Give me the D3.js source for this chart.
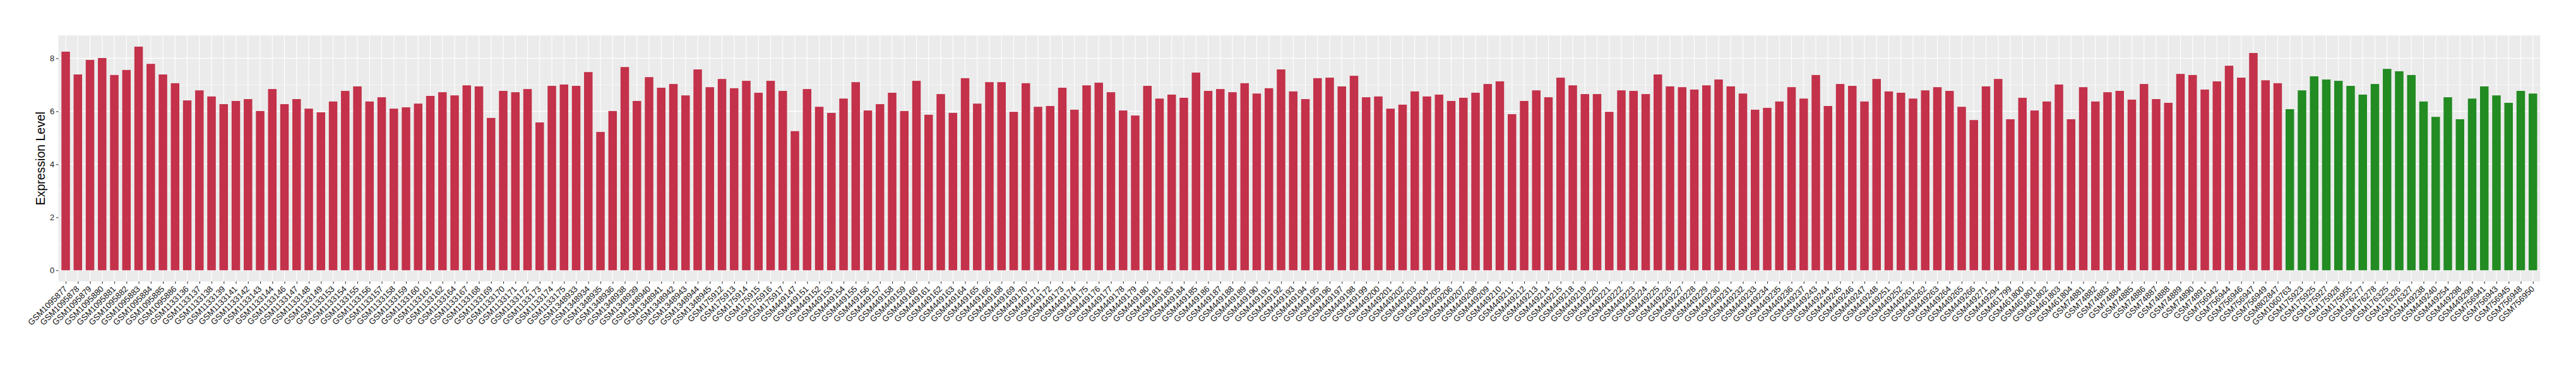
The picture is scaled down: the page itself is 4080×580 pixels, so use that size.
<!DOCTYPE html>
<html>
<head>
<meta charset="utf-8">
<script src="https://cdn.jsdelivr.net/npm/d3@7"></script>
<style>
html,body{margin:0;padding:0;background:#fff;}
svg{display:block;font-family:"Liberation Sans",Arial,Helvetica,sans-serif;}
</style>
</head>
<body>
<svg id="chart" width="4080" height="580"></svg>
<script>
const samples = [
"GSM1095877","GSM1095878","GSM1095879","GSM1095880","GSM1095881","GSM1095882","GSM1095883","GSM1095884","GSM1095885","GSM1095886",
"GSM1133136","GSM1133137","GSM1133138","GSM1133139","GSM1133141","GSM1133142","GSM1133143","GSM1133144","GSM1133146","GSM1133147",
"GSM1133148","GSM1133149","GSM1133153","GSM1133154","GSM1133155","GSM1133156","GSM1133157","GSM1133158","GSM1133159","GSM1133160",
"GSM1133161","GSM1133162","GSM1133164","GSM1133167","GSM1133168","GSM1133169","GSM1133170","GSM1133171","GSM1133172","GSM1133173",
"GSM1133174","GSM1133175","GSM1348933","GSM1348934","GSM1348935","GSM1348936","GSM1348938","GSM1348939","GSM1348940","GSM1348941",
"GSM1348942","GSM1348943","GSM1348944","GSM1348945","GSM175912","GSM175913","GSM175914","GSM175915","GSM175916","GSM175917",
"GSM449147","GSM449151","GSM449152","GSM449153","GSM449154","GSM449155","GSM449156","GSM449157","GSM449158","GSM449159",
"GSM449160","GSM449161","GSM449162","GSM449163","GSM449164","GSM449165","GSM449166","GSM449168","GSM449169","GSM449170",
"GSM449171","GSM449172","GSM449173","GSM449174","GSM449175","GSM449176","GSM449177","GSM449178","GSM449179","GSM449180",
"GSM449181","GSM449183","GSM449184","GSM449185","GSM449186","GSM449187","GSM449188","GSM449189","GSM449190","GSM449191",
"GSM449192","GSM449193","GSM449194","GSM449195","GSM449196","GSM449197","GSM449198","GSM449199","GSM449200","GSM449201",
"GSM449202","GSM449203","GSM449204","GSM449205","GSM449206","GSM449207","GSM449208","GSM449209","GSM449210","GSM449211",
"GSM449212","GSM449213","GSM449214","GSM449215","GSM449218","GSM449219","GSM449220","GSM449221","GSM449222","GSM449223",
"GSM449224","GSM449225","GSM449226","GSM449227","GSM449228","GSM449229","GSM449230","GSM449231","GSM449232","GSM449233",
"GSM449234","GSM449235","GSM449236","GSM449237","GSM449243","GSM449244","GSM449245","GSM449246","GSM449247","GSM449248",
"GSM449251","GSM449252","GSM449261","GSM449262","GSM449263","GSM449264","GSM449265","GSM449266","GSM449271","GSM449294",
"GSM461799","GSM461800","GSM461801","GSM461802","GSM461803","GSM461804","GSM74881","GSM74882","GSM74883","GSM74884",
"GSM74885","GSM74886","GSM74887","GSM74888","GSM74889","GSM74890","GSM74891","GSM756942","GSM756944","GSM756946",
"GSM756947","GSM756949","GSM802847","GSM1060763","GSM175923","GSM175925","GSM175927","GSM175928","GSM175955","GSM176277",
"GSM176278","GSM176325","GSM176326","GSM176327","GSM449238","GSM449240","GSM449254","GSM449298","GSM449299","GSM756941",
"GSM756943","GSM756945","GSM756948","GSM756950"
];

const expression = [
8.25,7.39,7.94,8.01,7.37,7.56,8.44,7.79,7.39,7.06,
6.41,6.79,6.56,6.27,6.39,6.46,6.01,6.84,6.27,6.46,
6.10,5.96,6.37,6.77,6.94,6.37,6.53,6.10,6.15,6.29,
6.58,6.72,6.60,6.98,6.94,5.75,6.77,6.72,6.84,5.58,
6.96,7.01,6.96,7.48,5.22,6.01,7.67,6.39,7.29,6.89,
7.03,6.60,7.58,6.91,7.22,6.87,7.15,6.70,7.15,6.77,
5.25,6.84,6.17,5.94,6.48,7.10,6.03,6.27,6.70,6.01,
7.15,5.87,6.65,5.94,7.25,6.29,7.10,7.10,5.98,7.06,
6.17,6.20,6.89,6.06,6.98,7.08,6.72,6.03,5.84,6.96,
6.48,6.63,6.51,7.46,6.77,6.84,6.72,7.06,6.67,6.87,
7.58,6.75,6.46,7.25,7.27,6.94,7.34,6.53,6.56,6.10,
6.25,6.75,6.56,6.63,6.39,6.51,6.70,7.03,7.13,5.89,
6.39,6.79,6.53,7.27,6.98,6.65,6.65,5.98,6.79,6.77,
6.65,7.39,6.94,6.91,6.82,6.98,7.20,6.94,6.67,6.06,
6.13,6.37,6.91,6.48,7.37,6.20,7.03,6.96,6.37,7.22,
6.75,6.70,6.48,6.79,6.91,6.77,6.17,5.67,6.94,7.22,
5.70,6.51,6.03,6.37,7.01,5.70,6.91,6.37,6.72,6.77,
6.44,7.03,6.46,6.32,7.41,7.37,6.82,7.13,7.72,7.27,
8.20,7.17,7.06,6.08,6.79,7.32,7.20,7.15,6.96,6.63,
7.03,7.60,7.51,7.37,6.37,5.79,6.53,5.70,6.48,6.94,
6.60,6.32,6.77,6.67
];

const groups = samples.map((s, i) => i < 183 ? "A" : "B");
const groupNames = ["A", "B"];
const groupColors = ["#C3314A", "#228B22"];

const yTicks = [0, 2, 4, 6, 8];
const yMinor = [1, 3, 5, 7];
const yTitle = "Expression Level";

const svg = d3.select("#chart");
const pl = 92.5, pr = 4023.3, pt = 56.2, pb = 446;

const maxV = d3.max(expression);
const x = d3.scalePoint().domain(samples).range([pl, pr]).padding(0.6);
const y = d3.scaleLinear().domain([-0.05 * maxV, maxV * 1.05]).range([pb, pt]);
const color = d3.scaleOrdinal().domain(groupNames).range(groupColors);
const step = x.step();
const bw = step * 0.7;

svg.append("rect").attr("x", pl).attr("y", pt).attr("width", pr - pl).attr("height", pb - pt).attr("fill", "#EBEBEB");

svg.append("g").selectAll("line").data(yMinor).join("line")
  .attr("x1", pl).attr("x2", pr)
  .attr("y1", d => y(d)).attr("y2", d => y(d))
  .attr("stroke", "#fff").attr("stroke-width", 0.6);
svg.append("g").selectAll("line").data(yTicks).join("line")
  .attr("x1", pl).attr("x2", pr)
  .attr("y1", d => y(d)).attr("y2", d => y(d))
  .attr("stroke", "#fff").attr("stroke-width", 1.1);
svg.append("g").selectAll("line").data(samples).join("line")
  .attr("x1", d => x(d)).attr("x2", d => x(d))
  .attr("y1", pt).attr("y2", pb)
  .attr("stroke", "#fff").attr("stroke-width", 1.1);

svg.append("g").selectAll("rect").data(samples).join("rect")
  .attr("x", (d) => x(d) - bw / 2)
  .attr("width", bw)
  .attr("y", (d, i) => y(expression[i]))
  .attr("height", (d, i) => y(0) - y(expression[i]))
  .attr("fill", (d, i) => color(groups[i]));

const yAxis = svg.append("g").attr("transform", `translate(${pl},0)`)
  .call(d3.axisLeft(y).tickValues(yTicks).tickSize(3.7).tickPadding(2.5));
yAxis.select(".domain").remove();
yAxis.selectAll(".tick line").attr("stroke", "#333").attr("stroke-width", 1.1);
yAxis.selectAll(".tick text").attr("fill", "#222").style("font-size", "13px")
  .style("font-family", "Liberation Sans, Arial, sans-serif");

const xAxis = svg.append("g").attr("transform", `translate(0,${pb})`)
  .call(d3.axisBottom(x).tickSize(3.7).tickPadding(2));
xAxis.select(".domain").remove();
xAxis.selectAll(".tick line").attr("stroke", "#333").attr("stroke-width", 1.1);
xAxis.selectAll(".tick text")
  .attr("fill", "#111")
  .style("font-size", "13.2px")
  .style("font-family", "Liberation Sans, Arial, sans-serif")
  .attr("text-anchor", "end")
  .attr("x", 0).attr("y", 0).attr("dy", "0.72em")
  .attr("transform", "translate(-4,6) rotate(-45)");

svg.append("text")
  .attr("transform", `translate(${71},${(pt + pb) / 2}) rotate(-90)`)
  .attr("text-anchor", "middle")
  .style("font-size", "19.5px")
  .attr("fill", "#000")
  .text(yTitle);
</script>
</body>
</html>
